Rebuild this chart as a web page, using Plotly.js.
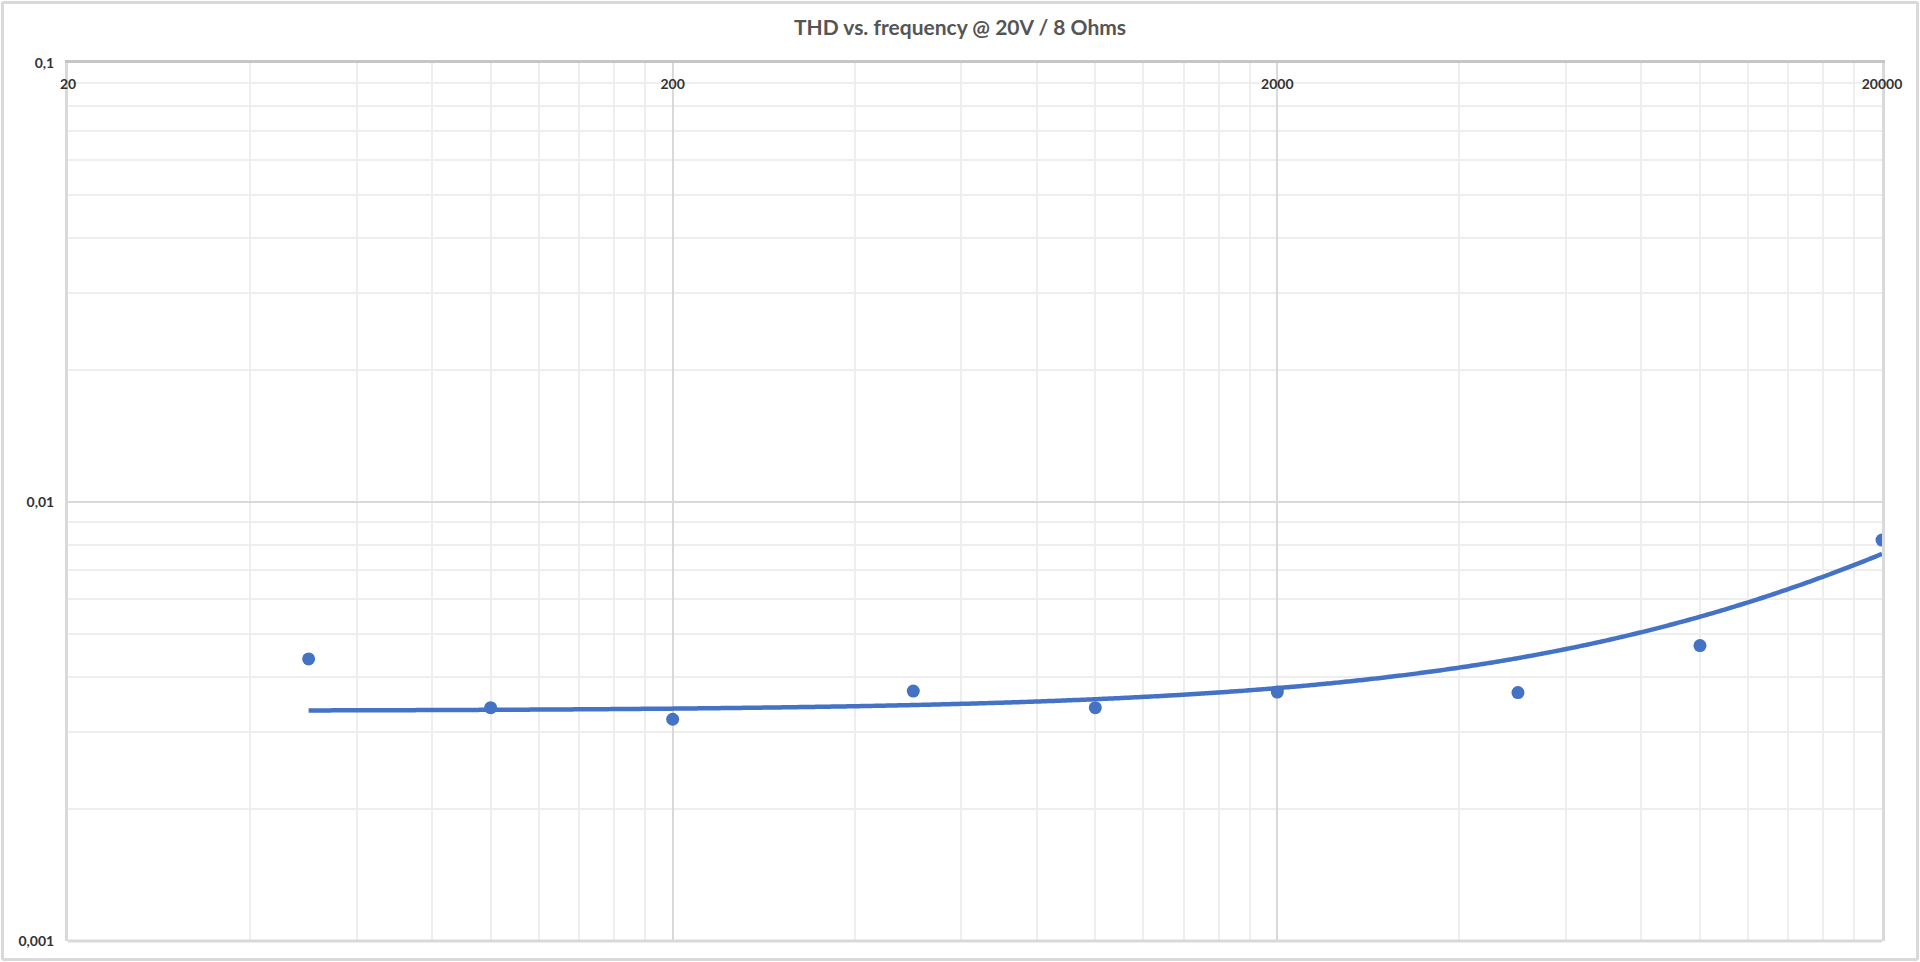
<!DOCTYPE html>
<html>
<head>
<meta charset="utf-8">
<script src="https://cdn.plot.ly/plotly-3.0.1.min.js"></script>
<style>
  html, body { margin: 0; padding: 0; background: #ffffff; }
  #wrap { position: relative; width: 1920px; height: 962px; }
  #chart { position: absolute; left: 0; top: 0; width: 1920px; height: 962px; }
  #frame { position: absolute; left: 1px; top: 1px; width: 1912px; height: 954px;
           border: 3px solid #d9d9d9; border-radius: 3px; pointer-events: none; }
</style>
</head>
<body>
<div id="wrap">
  <div id="chart"></div>
  <div id="frame"></div>
</div>
<script>
// ---- data ----
const frequencies = [50, 100, 200, 500, 1000, 2000, 5000, 10000, 20000];
const thdValues   = [0.00439, 0.00340, 0.00320, 0.00371, 0.00340, 0.00369, 0.00368, 0.00471, 0.00819];

const xTickVals  = [20, 200, 2000, 20000];
const xTickText  = ['20', '200', '2000', '20000'];
const yTickVals  = [0.001, 0.01, 0.1];
const yTickText  = ['0,001', '0,01', '0,1'];
const chartTitle = 'THD vs. frequency @ 20V / 8 Ohms';

// minor grid positions (Excel style: k * decade start)
const minorX = [];
[20, 200, 2000].forEach(b => { for (let k = 2; k <= 9; k++) minorX.push(b * k); });
const minorY = [];
[0.001, 0.01].forEach(b => { for (let k = 2; k <= 9; k++) minorY.push(b * k); });

// linear least-squares trendline (as Excel's linear trendline)
const n = frequencies.length;
const mx = frequencies.reduce((a, b) => a + b, 0) / n;
const my = thdValues.reduce((a, b) => a + b, 0) / n;
let sxy = 0, sxx = 0;
for (let i = 0; i < n; i++) {
  sxy += (frequencies[i] - mx) * (thdValues[i] - my);
  sxx += (frequencies[i] - mx) * (frequencies[i] - mx);
}
const slope = sxy / sxx;
const intercept = my - slope * mx;
const trendX = [], trendY = [];
const lo = Math.log10(frequencies[0]), hi = Math.log10(frequencies[n - 1]);
for (let i = 0; i <= 400; i++) {
  const f = Math.pow(10, lo + (hi - lo) * i / 400);
  trendX.push(f);
  trendY.push(intercept + slope * f);
}

const FONT = 'Lato, "Open Sans", sans-serif';
const blue = '#4472c4';

const traces = [
  {
    x: trendX, y: trendY, type: 'scatter', mode: 'lines',
    line: { color: blue, width: 4.5, shape: 'spline', smoothing: 1 }, hoverinfo: 'skip', showlegend: false
  },
  {
    x: frequencies, y: thdValues, type: 'scatter', mode: 'markers',
    marker: { color: blue, size: 13 }, showlegend: false
  }
];

const layout = {
  width: 1920, height: 962,
  margin: { l: 68, r: 38, t: 63, b: 21 },
  paper_bgcolor: '#ffffff', plot_bgcolor: '#ffffff',
  showlegend: false,
  title: {
    text: chartTitle,
    x: 0.5, xref: 'container', xanchor: 'center',
    y: 1 - 28 / 962, yref: 'container', yanchor: 'middle',
    font: { family: FONT, size: 21, color: '#555555', weight: 'bold' }
  },
  xaxis: {
    type: 'log',
    range: [Math.log10(20), Math.log10(20000)],
    side: 'top',
    tickmode: 'array', tickvals: xTickVals, ticktext: xTickText,
    ticks: '',
    ticklabelposition: 'inside',
    ticklabeloverflow: 'allow',
    ticklabelstandoff: 16,
    tickfont: { family: FONT, size: 14, color: '#333333', weight: 'bold' },
    showgrid: true, gridcolor: '#d9d9d9', gridwidth: 2,
    minor: { tickmode: 'array', tickvals: minorX, showgrid: true, gridcolor: '#eeeeee', gridwidth: 2, ticks: '' },
    showline: true, linecolor: '#c6c6c6', linewidth: 3,
    zeroline: false, fixedrange: true
  },
  yaxis: {
    type: 'log',
    range: [-3, -1],
    tickmode: 'array', tickvals: yTickVals, ticktext: yTickText,
    ticks: '',
    ticklabelstandoff: 8,
    tickfont: { family: FONT, size: 14, color: '#333333', weight: 'bold' },
    showgrid: true, gridcolor: '#d9d9d9', gridwidth: 2,
    minor: { tickmode: 'array', tickvals: minorY, showgrid: true, gridcolor: '#eeeeee', gridwidth: 2, ticks: '' },
    showline: true, linecolor: '#d9d9d9', linewidth: 3, mirror: true,
    zeroline: false, fixedrange: true
  },
  shapes: [
    { type: 'line', xref: 'paper', yref: 'paper', x0: 0, x1: 1, y0: 0, y1: 0,
      line: { color: '#d9d9d9', width: 3 }, layer: 'above' }
  ]
};

Plotly.newPlot('chart', traces, layout, { displayModeBar: false, staticPlot: true });
</script>
</body>
</html>
